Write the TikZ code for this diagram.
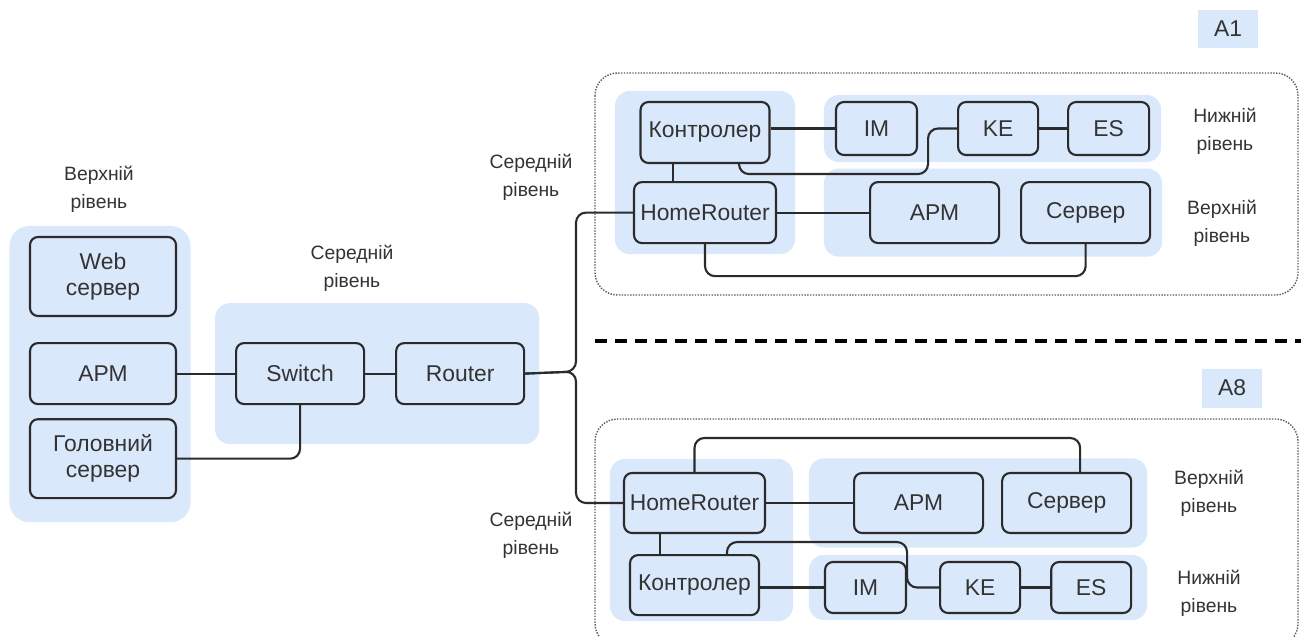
\documentclass[tikz,border=0pt]{standalone}
\usepackage{fontspec}
\setmainfont{Liberation Sans}
\usetikzlibrary{positioning,fit,backgrounds,calc}

\definecolor{groupblue}{HTML}{DAE8FC}
\definecolor{boxline}{HTML}{2B2B2B}
\definecolor{labelgray}{HTML}{333333}

\begin{document}
\begin{tikzpicture}[
    x=0.02cm, y=-0.02cm,
    box/.style={rectangle, draw=boxline, fill=groupblue, line width=1.2pt, rounded corners=0.16cm, minimum width=2.58cm, minimum height=1.22cm, inner xsep=1pt, align=center, text=labelgray, font=\fontsize{13}{15}\selectfont},
    smallbox/.style={box, minimum width=1.62cm, minimum height=1.06cm},
    group/.style={rectangle, fill=groupblue, rounded corners=0.3cm},
    frame/.style={draw=gray!70!black, line width=0.8pt, dash pattern=on 0.8pt off 0.8pt, rounded corners=0.45cm},
    lvl/.style={align=center, text=labelgray, font=\fontsize{11}{16}\selectfont},
    tag/.style={fill=groupblue, minimum width=1.2cm, minimum height=0.78cm, text=labelgray, font=\fontsize{13}{15}\selectfont},
    link/.style={draw=boxline, line width=1.2pt, rounded corners=0.2cm},
    sepline/.style={line width=2pt, dash pattern=on 0.24cm off 0.16cm}
]
\useasboundingbox (0,0) rectangle (1301,636);

% Top level (left)
\node[box, minimum width=2.92cm, minimum height=1.58cm] (web) at (103,276.5) {Web\\сервер};
\node[box, minimum width=2.92cm, below=0.5cm of web] (apmL) {АРМ};
\node[box, minimum width=2.92cm, minimum height=1.58cm, below=0.26cm of apmL] (mainsrv) {Головний\\сервер};
\node[lvl] (lvlL) at (99,189) {Верхній\\рівень};

% Middle level
\node[box, minimum width=2.56cm, right=1.16cm of apmL] (switch) {Switch};
\node[box, minimum width=2.56cm, right=0.6cm of switch] (router) {Router};
\node[lvl] (lvlM) at (352,268) {Середній\\рівень};

% Object A1
\node[tag] (tagA) at (1228,29) {A1};
\node[box] (ctrlA) at (705,132.5) {Контролер};
\node[box, minimum width=2.84cm, below=0.34cm of ctrlA] (hrA) {HomeRouter};
\node[smallbox] (imA) at (876.5,128.5) {IM};
\node[smallbox, minimum width=1.6cm, right=0.78cm of imA] (keA) {KE};
\node[smallbox, right=0.56cm of keA] (esA) {ES};
\node[box, right=1.84cm of hrA] (apmA) {АРМ};
\node[box, right=0.4cm of apmA] (srvA) {Сервер};
\node[lvl] (lvlA1) at (531,177) {Середній\\рівень};
\node[lvl] (lvlA2) at (1225,131) {Нижній\\рівень};
\node[lvl] (lvlA3) at (1222,223) {Верхній\\рівень};
\draw[frame] (595,73) rectangle (1298,295);

\draw[sepline] (595,341) -- (1301,341);

% Object A8
\node[tag] (tagB) at (1232,388) {A8};
\node[box, minimum width=2.82cm, minimum height=1.2cm] (hrB) at (694.5,503) {HomeRouter};
\node[box, minimum height=1.2cm, right=1.74cm of hrB] (apmB) {АРМ};
\node[box, minimum height=1.2cm, right=0.34cm of apmB] (srvB) {Сервер};
\node[box, minimum height=1.2cm, below=0.4cm of hrB] (ctrlB) {Контролер};
\node[smallbox, minimum height=1.02cm] (imB) at (865.5,587.5) {IM};
\node[smallbox, minimum width=1.6cm, minimum height=1.02cm, right=0.64cm of imB] (keB) {KE};
\node[smallbox, minimum width=1.6cm, minimum height=1.02cm, right=0.58cm of keB] (esB) {ES};
\node[lvl] (lvlB1) at (531,535) {Середній\\рівень};
\node[lvl] (lvlB2) at (1209,493) {Верхній\\рівень};
\node[lvl] (lvlB3) at (1209,593) {Нижній\\рівень};
\draw[frame] (595,419) rectangle (1298,646);

% Level backgrounds
\begin{scope}[on background layer]
\node[group, rounded corners=0.4cm, fit=(web)(mainsrv), inner sep=0.33cm, xshift=-0.06cm, yshift=-0.13cm] (leftbg) {};
\node[group, fit=(switch)(router), inner xsep=0.34cm, inner ysep=0.78cm, xshift=-0.06cm] (midbg) {};
\node[group, fit=(ctrlA)(hrA), inner xsep=0.36cm, inner ysep=0.2cm] (midA) {};
\node[group, fit=(imA)(esA), inner xsep=0.22cm, inner ysep=0.12cm] (lowA) {};
\node[group, fit=(imA.west |- apmA.north)(srvA.south east), inner xsep=0.22cm, inner ysep=0.25cm] (upA) {};
\node[group, fit=(hrB)(ctrlB), inner xsep=0.4cm, inner ysep=0.18cm, xshift=0.14cm, yshift=0.08cm] (midB) {};
\node[group, fit=(imB.west |- apmB.north)(srvB.south east), inner xsep=0.3cm, inner ysep=0.27cm] (upB) {};
\node[group, fit=(imB)(esB), inner xsep=0.3cm, inner ysep=0.12cm] (lowB) {};
\end{scope}

% Links
\draw[link] (apmL) -- (switch);
\draw[link] (switch) -- (router);
\draw[link] (mainsrv.east) -| (switch.south);
\coordinate (fork) at (576,371.5);
\draw[link] (router.east) -- (fork) |- (hrA.west);
\draw[link] (router.east) -- (fork) |- (hrB.west);

\draw[link] (ctrlA.east |- imA.west) -- (imA.west);
\draw[link] (keA) -- (esA);
\draw[link] ([xshift=0.68cm]ctrlA.south) -- ++(0,10) -| ([xshift=-0.58cm]keA.west) -- (keA.west);
\draw[link] ([xshift=-0.64cm]ctrlA.south) -- ([xshift=-0.64cm]hrA.north);
\draw[link] (hrA) -- (apmA);
\draw[link] (hrA.south) -- ++(0,32) -| (srvA.south);

\draw[link] (hrB.north) -- ++(0,-34) -| ([xshift=0.27cm]srvB.north);
\draw[link] (hrB) -- (apmB);
\draw[link] ([xshift=-0.69cm]hrB.south) -- ([xshift=-0.69cm]hrB.south |- ctrlB.north);
\draw[link] ([xshift=0.65cm]ctrlB.north) -- ++(0,-12) -| ([xshift=-0.64cm]keB.west) -- (keB.west);
\draw[link] (ctrlB.east |- imB.west) -- (imB.west);
\draw[link] (keB) -- (esB);

\end{tikzpicture}
\end{document}
